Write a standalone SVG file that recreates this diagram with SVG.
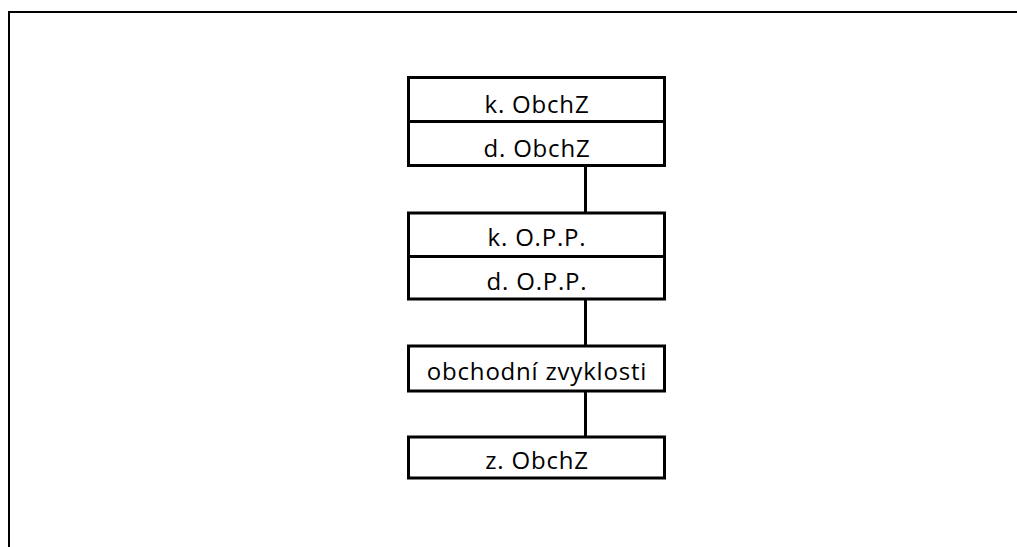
<svg xmlns="http://www.w3.org/2000/svg" width="1017" height="547" viewBox="0 0 1017 547">
<style>
.box{fill:#fff;stroke:#000;stroke-width:3}
.frame{fill:none;stroke:#000;stroke-width:2}
.conn{stroke:#000;stroke-width:3;fill:none}
text{font-family:"Open Sans","Liberation Sans",sans-serif;font-size:24px;letter-spacing:0.8px;text-anchor:middle;fill:#000}
</style>
<rect class="frame" x="9" y="12" width="1020" height="550"/>
<g id="connectors">
<line class="conn" x1="585.5" y1="166" x2="585.5" y2="213"/>
<line class="conn" x1="585.5" y1="299" x2="585.5" y2="346"/>
<line class="conn" x1="585.5" y1="391" x2="585.5" y2="437"/>
</g>
<g id="node1">
<rect class="box" x="408.5" y="77.5" width="256" height="44"/>
<rect class="box" x="408.5" y="121.5" width="256" height="44"/>
<text x="537" y="113">k. ObchZ</text>
<text x="537" y="157">d. ObchZ</text>
</g>
<g id="node2">
<rect class="box" x="408.5" y="213" width="256" height="43.5"/>
<rect class="box" x="408.5" y="256.5" width="256" height="42.5"/>
<text x="537" y="246">k. O.P.P.</text>
<text x="537" y="290">d. O.P.P.</text>
</g>
<g id="node3">
<rect class="box" x="408.5" y="346" width="256" height="45"/>
<text x="537" y="380">obchodní zvyklosti</text>
</g>
<g id="node4">
<rect class="box" x="408.5" y="437" width="256" height="41"/>
<text x="537" y="469">z. ObchZ</text>
</g>
</svg>
